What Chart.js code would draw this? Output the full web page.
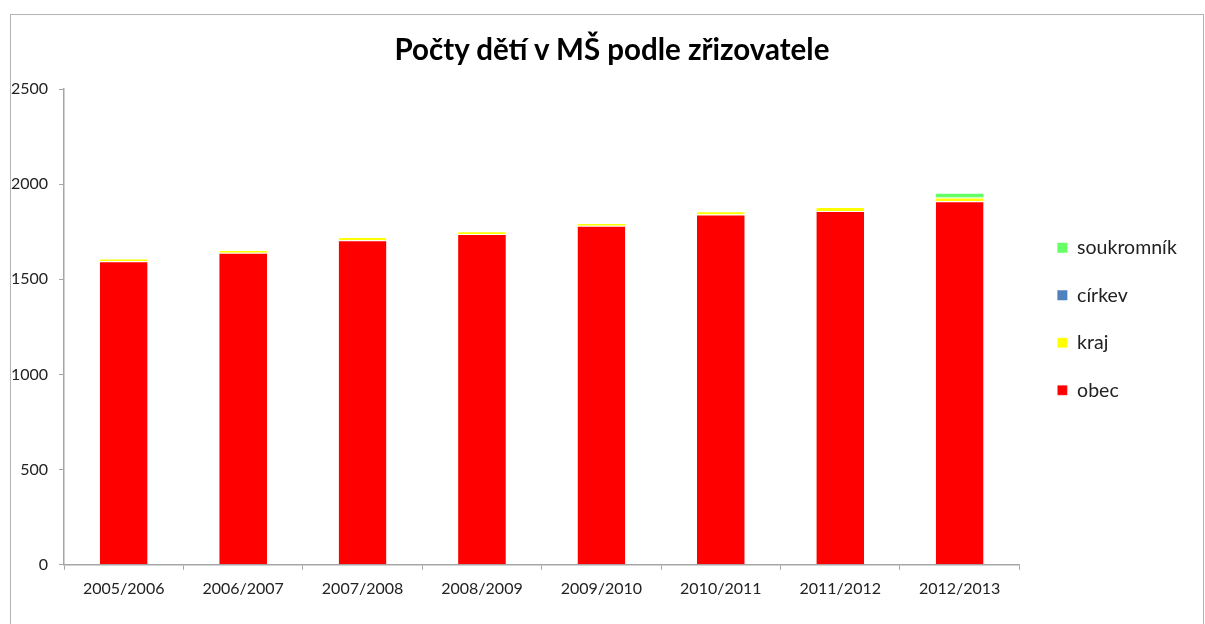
<!DOCTYPE html>
<html>
<head>
    <meta charset="UTF-8">
    <title>Počty dětí v MŠ podle zřizovatele</title>
    <script src="https://cdn.jsdelivr.net/npm/chart.js@4.4.0/dist/chart.umd.min.js"></script>
    <style>
        body {
            margin: 0;
            background: #fff;
            font-family: Lato, sans-serif;
        }
        .frame {
            position: absolute;
            left: 10px;
            top: 14px;
            width: 1192px;
            height: 620px;
            border: 1px solid #b4b4b4;
            border-bottom: none;
        }
        .chart-title {
            position: absolute;
            left: 0;
            top: 31px;
            width: 1224px;
            line-height: 35px;
            text-align: center;
            font-family: Lato, sans-serif;
            font-size: 29.5px;
            font-weight: bold;
            color: #000;
        }
        canvas {
            display: block;
        }
    </style>
</head>
<body>
<div class="frame">
    <canvas id="chart" width="1192" height="610"></canvas>
</div>
<div class="chart-title">Počty dětí v MŠ podle zřizovatele</div>

<script>
    const years = ['2005/2006', '2006/2007', '2007/2008', '2008/2009', '2009/2010', '2010/2011', '2011/2012', '2012/2013'];
    const obec = [1595, 1640, 1705, 1738, 1782, 1840, 1859, 1910];
    const kraj = [15, 14, 18, 15, 14, 18, 21, 20];
    const cirkev = [0, 0, 0, 0, 0, 0, 0, 0];
    const soukromnik = [0, 0, 0, 0, 0, 0, 0, 19];
    const yTicks = [0, 500, 1000, 1500, 2000, 2500];

    const axisColor = '#a6a6a6';
    const textColor = '#222';

    // empty scale used only to reserve room (title above, gap before legend)
    const spacer = (size, vertical) => ({
        type: 'linear',
        position: vertical ? 'right' : 'top',
        display: true,
        grid: {display: false},
        border: {display: false},
        ticks: {display: false},
        afterFit: axis => {
            if (vertical) axis.width = size;
            else axis.height = size;
        }
    });

    const ctx = document.getElementById('chart').getContext('2d');
    const chart = new Chart(ctx, {
        type: 'bar',
        data: {
            labels: years,
            datasets: [{
                label: 'obec',
                data: obec,
                backgroundColor: '#ff0000',
                borderColor: '#ffffff',
                borderWidth: {top: 1, left: 0, right: 0, bottom: 0},
                borderSkipped: false
            }, {
                label: 'kraj',
                data: kraj,
                backgroundColor: '#ffff00',
                borderColor: '#ffffff',
                borderWidth: {top: 1, left: 0, right: 0, bottom: 0},
                borderSkipped: false
            }, {
                label: 'církev',
                data: cirkev,
                backgroundColor: '#4f81bd'
            }, {
                label: 'soukromník',
                data: soukromnik,
                backgroundColor: '#66ff66'
            }]
        },
        options: {
            responsive: false,
            animation: false,
            datasets: {
                bar: {
                    categoryPercentage: 1,
                    barPercentage: 0.4
                }
            },
            layout: {
                padding: {left: 0, right: 16, top: 16, bottom: 18}
            },
            plugins: {
                title: {display: false},
                legend: {
                    position: 'right',
                    reverse: true,
                    labels: {
                        boxWidth: 10,
                        boxHeight: 10,
                        padding: 28,
                        color: textColor,
                        font: {family: 'Lato', size: 19.5}
                    }
                },
                tooltip: {enabled: false}
            },
            scales: {
                x: {
                    stacked: true,
                    grid: {
                        display: true,
                        drawOnChartArea: false,
                        drawTicks: true,
                        tickLength: 5,
                        color: axisColor
                    },
                    border: {color: axisColor, width: 1.5},
                    ticks: {
                        color: textColor,
                        padding: 9,
                        maxRotation: 0,
                        font: {family: 'Lato', size: 16}
                    }
                },
                y: {
                    stacked: true,
                    min: 0,
                    max: 2500,
                    afterBuildTicks: axis => {
                        axis.ticks = yTicks.map(v => ({value: v}));
                    },
                    afterFit: axis => {
                        axis.width = 53;
                    },
                    grid: {
                        display: true,
                        drawOnChartArea: false,
                        drawTicks: true,
                        tickLength: 5,
                        color: axisColor
                    },
                    border: {color: axisColor, width: 1.5},
                    ticks: {
                        color: textColor,
                        padding: 11,
                        callback: v => String(v),
                        font: {family: 'Lato', size: 16}
                    }
                },
                gapTop: spacer(58, false),
                gapRight: spacer(10, true)
            }
        }
    });
</script>
</body>
</html>
